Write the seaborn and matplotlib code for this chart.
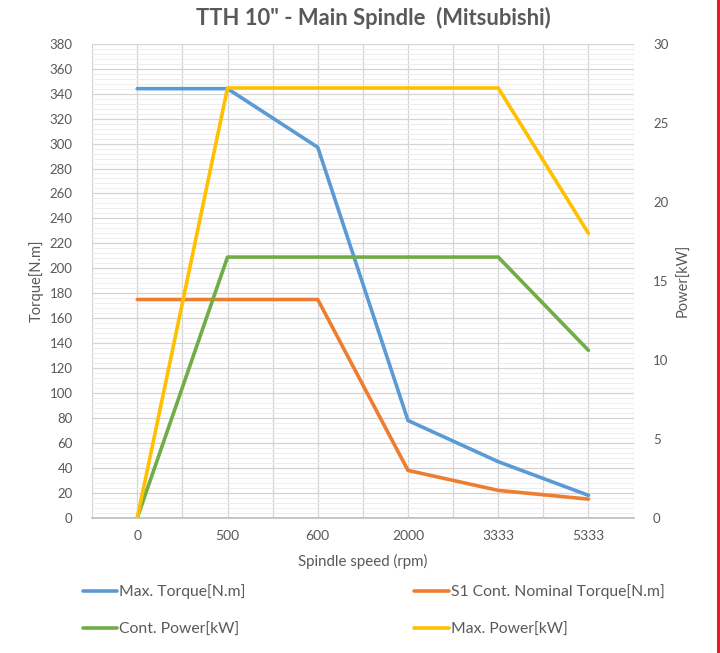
import numpy as np
import pandas as pd
import matplotlib
matplotlib.use("Agg")
import matplotlib.pyplot as plt
import seaborn as sns
from matplotlib.ticker import MultipleLocator
from matplotlib.lines import Line2D

# Spindle characteristic curve data
speeds = ["0", "500", "600", "2000", "3333", "5333"]
max_torque = [344, 344, 297, 78, 45, 18]          # N.m
s1_torque = [175, 175, 175, 38, 22, 15]           # N.m
cont_power = [0, 16.5, 16.5, 16.5, 16.5, 10.6]    # kW
max_power = [0, 27.2, 27.2, 27.2, 27.2, 18.0]     # kW

names = ["Max. Torque[N.m]", "S1 Cont. Nominal Torque[N.m]",
         "Cont. Power[kW]", "Max. Power[kW]"]
colors = ["#5B9BD5", "#ED7D31", "#70AD47", "#FFC000"]

pos = np.arange(len(speeds))
torque_df = pd.DataFrame({
    "pos": np.tile(pos, 2),
    "value": max_torque + s1_torque,
    "series": [names[0]] * len(pos) + [names[1]] * len(pos),
})
power_df = pd.DataFrame({
    "pos": np.tile(pos, 2),
    "value": cont_power + max_power,
    "series": [names[2]] * len(pos) + [names[3]] * len(pos),
})

sns.set_theme(style="white")
plt.rcParams["font.family"] = ["Lato", "DejaVu Sans"]
text_col = "#595959"

fig = plt.figure(figsize=(7.2, 6.53), dpi=100)
ax = fig.add_axes([0.128, 0.207, 0.752, 0.726])
ax2 = ax.twinx()

sns.lineplot(data=torque_df, x="pos", y="value", hue="series",
             palette=colors[:2], linewidth=2.6, sort=False, ax=ax, legend=False)
sns.lineplot(data=power_df, x="pos", y="value", hue="series",
             palette=colors[2:], linewidth=2.6, sort=False, ax=ax2, legend=False)

ax.set_xlim(-0.5, len(speeds) - 0.5)
ax.set_ylim(0, 380)
ax2.set_ylim(0, 30)
ax.set_xticks(pos)
ax.set_xticklabels(speeds)
ax.xaxis.set_minor_locator(MultipleLocator(0.5))
ax.yaxis.set_major_locator(MultipleLocator(20))
ax.yaxis.set_minor_locator(MultipleLocator(4))
ax2.yaxis.set_major_locator(MultipleLocator(5))

ax.grid(which="major", axis="both", color="#d4d4d4", linewidth=0.9)
ax.grid(which="minor", axis="y", color="#ededed", linewidth=0.7)
ax.grid(which="minor", axis="x", color="#d4d4d4", linewidth=0.9)
ax.set_axisbelow(True)

for a in (ax, ax2):
    for s in a.spines.values():
        s.set_visible(False)
    a.tick_params(which="both", length=0, labelsize=9.5, labelcolor=text_col)
ax.spines["bottom"].set_visible(True)
ax.spines["bottom"].set_color("#bfbfbf")
ax.tick_params(axis="x", pad=9, labelsize=10)
ax.tick_params(axis="y", pad=14)
ax2.tick_params(axis="y", pad=14)

ax.set_xlabel("Spindle speed (rpm)", fontsize=10.8, color=text_col, labelpad=8)
ax.set_ylabel("Torque[N.m]", fontsize=10.5, color=text_col, labelpad=4)
ax2.set_ylabel("Power[kW]", fontsize=10.5, color=text_col, labelpad=6)
ax2.yaxis.set_label_position("right")

fig.text(0.518, 0.972, "TTH 10\" - Main Spindle  (Mitsubishi)", ha="center",
         va="center", fontsize=15.8, fontweight="bold", color=text_col)

# Legend: two columns, filled column-wise
order = [0, 2, 1, 3]
handles = [Line2D([], [], color=colors[i], linewidth=2.6) for i in order]
labels = [names[i] for i in order]
fig.legend(handles, labels, loc="upper left", bbox_to_anchor=(0.095, 0.127),
           ncol=2, frameon=False, fontsize=11.3, handlelength=2.2,
           handletextpad=0.1, columnspacing=10.8, labelspacing=1.5,
           labelcolor=text_col)

# Right-hand red margin line
fig.add_artist(Line2D([0.9975, 0.9975], [0, 1], transform=fig.transFigure,
                      color="#e8192c", linewidth=2.2))

fig.savefig("out.png", dpi=100)
